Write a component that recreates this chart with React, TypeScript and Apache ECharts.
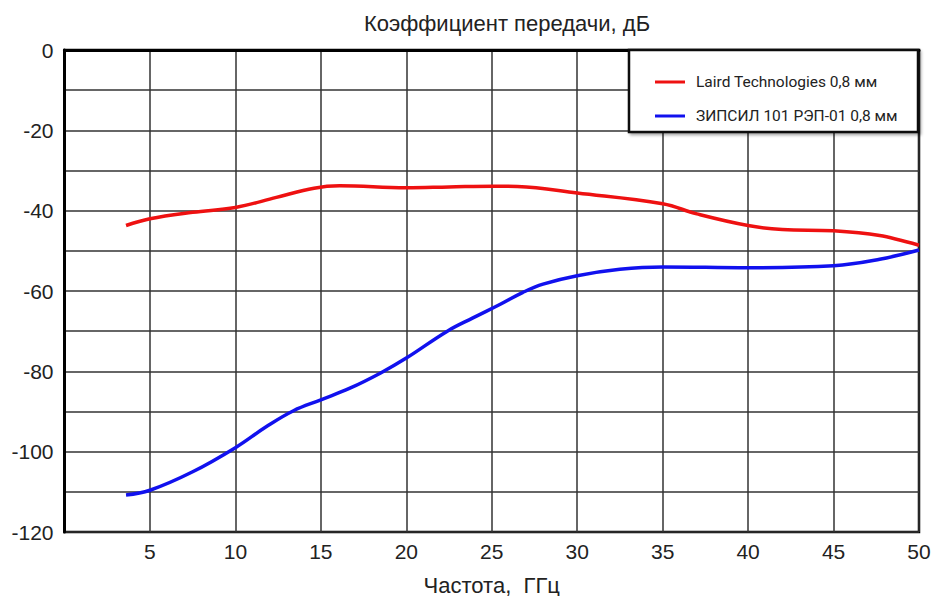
import React, { useEffect, useRef } from "react";
import * as echarts from "echarts";

const titleText = "Коэффициент передачи, дБ";
const xAxisName = "Частота,  ГГц";
const seriesNames = ["Laird Technologies 0,8 мм", "ЗИПСИЛ 101 РЭП-01 0,8 мм"];

const lairdX = [3.6, 5, 7.5, 10, 12.4, 14.6, 16.1, 20, 22.5, 25.1, 26.5, 30, 35, 37, 40, 42, 45, 47.7, 50];
const lairdY = [-43.7, -42, -40.4, -39.2, -36.7, -34.4, -33.8, -34.3, -34.1, -33.9, -34.0, -35.6, -38.3, -40.8, -43.7, -44.7, -45, -46.2, -48.6];

const zipsilX = [3.6, 5, 7.5, 10, 11.8, 13.4, 15, 16.7, 18.5, 20, 22.4, 23.9, 25.5, 26.8, 28, 30, 32.5, 35, 40, 45, 47.7, 50];
const zipsilY = [-110.8, -109.6, -105, -99, -93.8, -89.8, -87.1, -84.2, -80.4, -76.7, -70, -66.7, -63.3, -60.4, -58.3, -56.2, -54.6, -54, -54.2, -53.7, -52.1, -49.8];

const colors = ["#ee1111", "#1111ee"];

export default function App() {
  const ref = useRef<HTMLDivElement>(null);
  useEffect(() => {
    if (!ref.current) return;
    const chart = echarts.init(ref.current, undefined, { renderer: "svg" });
    const font = "Liberation Sans, Arial, sans-serif";
    chart.setOption({
      animation: false,
      backgroundColor: "#fff",
      title: {
        text: titleText,
        left: 502,
        top: 7,
        textAlign: "center",
        textStyle: { fontFamily: font, fontSize: 22, fontWeight: "normal", color: "#222" },
      },
      grid: {
        left: 64.5,
        right: 13,
        top: 50,
        bottom: 64,
        outerBoundsMode: "none",
        containLabel: false,
        show: true,
        borderColor: "#000",
        borderWidth: 2.5,
        backgroundColor: "#fff",
      },
      graphic: [
        {
          type: "rect",
          shape: { x: 629, y: 50, width: 289, height: 82 },
          style: {
            fill: "#fff",
            stroke: "#111",
            lineWidth: 2.5,
            shadowColor: "rgba(0,0,0,0.35)",
            shadowBlur: 3,
            shadowOffsetX: 2,
            shadowOffsetY: 2,
          },
          z: 100,
        },
      ],
      legend: {
        left: 650,
        top: 67,
        orient: "vertical",
        itemWidth: 30,
        itemHeight: 3,
        itemGap: 14,
        icon: "rect",
        z: 110,
        textStyle: { fontFamily: "Roboto", fontSize: 15.5, lineHeight: 20, color: "#222", padding: [0, 0, 0, 6] },
        data: seriesNames,
      },
      xAxis: {
        type: "value",
        min: 0,
        max: 50,
        interval: 5,
        name: xAxisName,
        nameLocation: "middle",
        nameGap: 42,
        nameTextStyle: { fontFamily: font, fontSize: 22, color: "#222" },
        axisLine: { show: true, lineStyle: { color: "#000", width: 3 } },
        axisTick: { show: false },
        splitLine: { show: true, lineStyle: { color: "#333", width: 1.5 } },
        axisLabel: {
          fontFamily: font,
          fontSize: 21,
          color: "#222",
          margin: 9,
          formatter: (v: number) => (v === 0 ? "" : String(v)),
        },
      },
      yAxis: {
        type: "value",
        min: -120,
        max: 0,
        interval: 10,
        axisLine: { show: true, lineStyle: { color: "#000", width: 3 } },
        axisTick: { show: false },
        splitLine: { show: true, lineStyle: { color: "#333", width: 1.5 } },
        axisLabel: {
          fontFamily: font,
          fontSize: 21,
          color: "#222",
          margin: 11,
          formatter: (v: number) => (v % 20 === 0 ? String(v) : ""),
        },
      },
      series: [
        {
          name: seriesNames[0],
          type: "line",
          smooth: 0.4,
          showSymbol: false,
          symbol: "none",
          color: colors[0],
          lineStyle: { width: 3.5, color: colors[0] },
          data: lairdX.map((x, i) => [x, lairdY[i]]),
          z: 5,
        },
        {
          name: seriesNames[1],
          type: "line",
          smooth: 0.4,
          showSymbol: false,
          symbol: "none",
          color: colors[1],
          lineStyle: { width: 3.5, color: colors[1] },
          data: zipsilX.map((x, i) => [x, zipsilY[i]]),
          z: 6,
        },
      ],
    });
    return () => chart.dispose();
  }, []);
  return <div ref={ref} style={{ width: 932, height: 596, position: "absolute", left: 0, top: 0 }} />;
}
